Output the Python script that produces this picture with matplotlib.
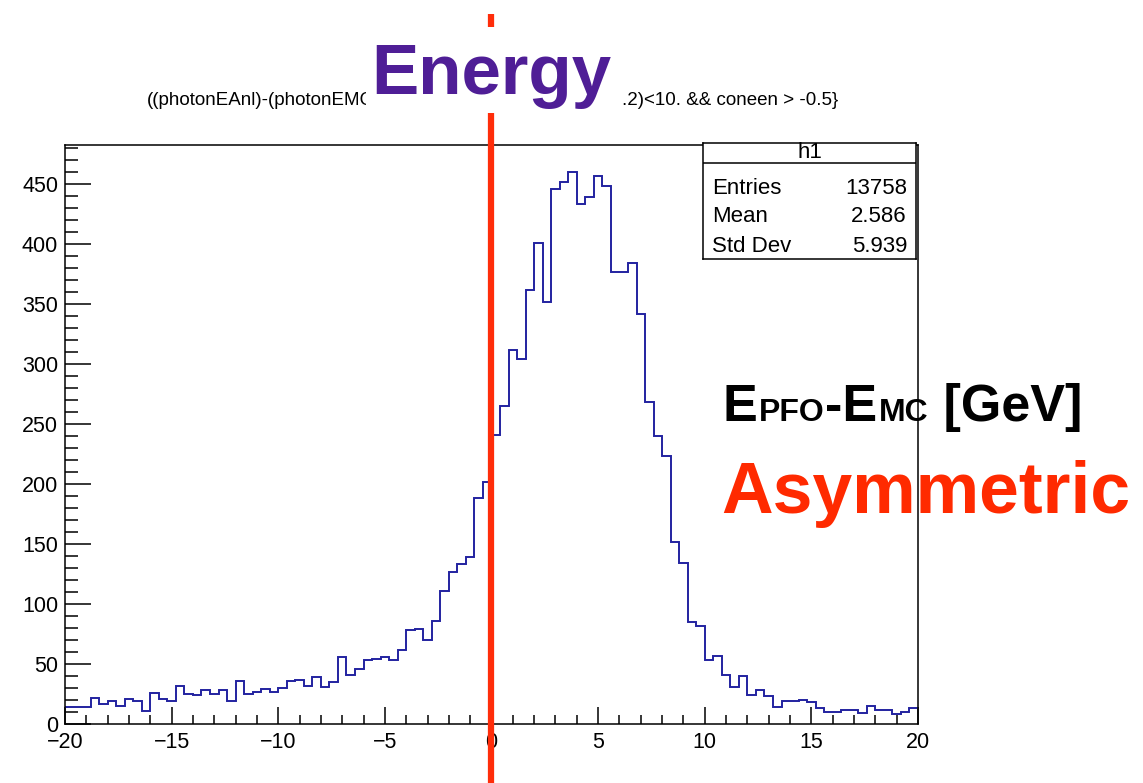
import matplotlib
matplotlib.use("Agg")
import matplotlib.pyplot as plt
import numpy as np
from matplotlib.patches import Rectangle
from matplotlib.transforms import blended_transform_factory

plt.rcParams['font.family'] = ['Liberation Sans', 'DejaVu Sans']

# histogram h1: 100 bins from -20 to 20
edges = np.linspace(-20, 20, 101)
counts = [14, 14, 14, 22, 17, 19, 15, 21, 19, 11,
          26, 21, 19, 32, 25, 24, 28, 25, 28, 19,
          36, 25, 27, 29, 27, 30, 36, 37, 32, 39,
          31, 35, 56, 41, 46, 53, 54, 56, 53, 62,
          78, 79, 70, 86, 111, 127, 133, 139, 188, 202,
          241, 265, 312, 304, 362, 401, 352, 446, 452, 460,
          433, 439, 457, 448, 377, 377, 384, 342, 268, 240,
          223, 152, 134, 85, 82, 53, 57, 41, 31, 40,
          24, 28, 23, 14, 19, 19, 20, 18, 13, 10,
          10, 12, 12, 9, 15, 12, 12, 8, 10, 13]

stat_names = ["Entries", "Mean", "Std Dev"]
stat_values = ["13758", "2.586", "5.939"]
hist_name = "h1"

title_left = "((photonEAnl)-(photonEMC"
title_right = ".2)<10. && coneen > -0.5}"

W, H = 1143, 783
fig = plt.figure(figsize=(W / 100, H / 100), dpi=100)
ax = fig.add_axes([65 / W, 1 - 724 / H, 853 / W, 579 / H])

ax.stairs(counts, edges, baseline=None, color='#2323a0', lw=1.4, zorder=2)
ax.set_xlim(-20, 20)
ax.set_ylim(0, 482.5)
ax.set_xticks(np.arange(-20, 21, 5))
ax.set_xticks(np.arange(-20, 21, 1), minor=True)
ax.set_yticks(np.arange(0, 451, 50))
ax.set_yticks(np.arange(0, 481, 10), minor=True)
ax.set_xticklabels([str(v).replace('-', '\u2212') for v in range(-20, 21, 5)])
ax.tick_params(axis='x', which='major', direction='in', length=12.5, width=1.1,
               labelsize=15.5, pad=6)
ax.tick_params(axis='x', which='minor', direction='in', length=6.5, width=1.1)
ax.tick_params(axis='y', which='major', direction='in', length=19, width=1.1,
               labelsize=15.5, pad=5)
ax.tick_params(axis='y', which='minor', direction='in', length=9.5, width=1.1)
for sp in ax.spines.values():
    sp.set_linewidth(1.1)

# red vertical marker at x = 0 across the whole figure
tr = blended_transform_factory(ax.transData, fig.transFigure)
ax.plot([0, 0], [0, 1 - 14 / H], transform=tr, color='#ff2d0a', lw=4.5,
        clip_on=False, zorder=6, solid_capstyle='butt')

# title pieces
fig.text(147 / W, 1 - 105 / H, title_left, fontsize=13.5, va='baseline', ha='left')
fig.text(622 / W, 1 - 105 / H, title_right, fontsize=13.5, va='baseline', ha='left')

# white block behind "Energy"
fig.add_artist(Rectangle((366 / W, 1 - 113 / H), 254 / W, 86 / H,
                         transform=fig.transFigure, facecolor='white',
                         edgecolor='none', zorder=4))
fig.text(371 / W, 1 - 94 / H, "Energy", fontsize=51, fontweight='bold',
         color='#4f1e96', va='baseline', ha='left', zorder=5)

# stats box
sax = fig.add_axes([703 / W, 1 - 259 / H, 213 / W, 116 / H])
sax.set_xlim(0, 1)
sax.set_ylim(0, 1)
sax.set_xticks([])
sax.set_yticks([])
for sp in sax.spines.values():
    sp.set_linewidth(1.1)
sax.axhline(1 - 20 / 116, color='black', lw=1.1)
fig.text(810 / W, 1 - 153 / H, hist_name, fontsize=16, ha='center', va='center')
for i, (n, v) in enumerate(zip(stat_names, stat_values)):
    yy = 1 - (188 + 29 * i) / H
    fig.text(712 / W, yy, n, fontsize=16, ha='left', va='center')
    fig.text(907 / W, yy, v, fontsize=16, ha='right', va='center')

# annotation texts drawn beneath the frame line
renderer = fig.canvas.get_renderer()
parts = [("E", 37.5), ("PFO", 23), ("-E", 37.5), ("MC", 23), (" [GeV]", 37.5)]
x = 723
for s, size in parts:
    t = ax.text(x / W, 1 - 421 / H, s, transform=fig.transFigure, fontsize=size,
                fontweight='bold', color='black', va='baseline', ha='left',
                clip_on=False, zorder=1)
    x = t.get_window_extent(renderer).x1 + 1

ax.text(721 / W, 1 - 513 / H, "Asymmetric", transform=fig.transFigure,
        fontsize=51.5, fontweight='bold', color='#ff2a00', va='baseline',
        ha='left', clip_on=False, zorder=1)

fig.savefig("out.png", dpi=100)
